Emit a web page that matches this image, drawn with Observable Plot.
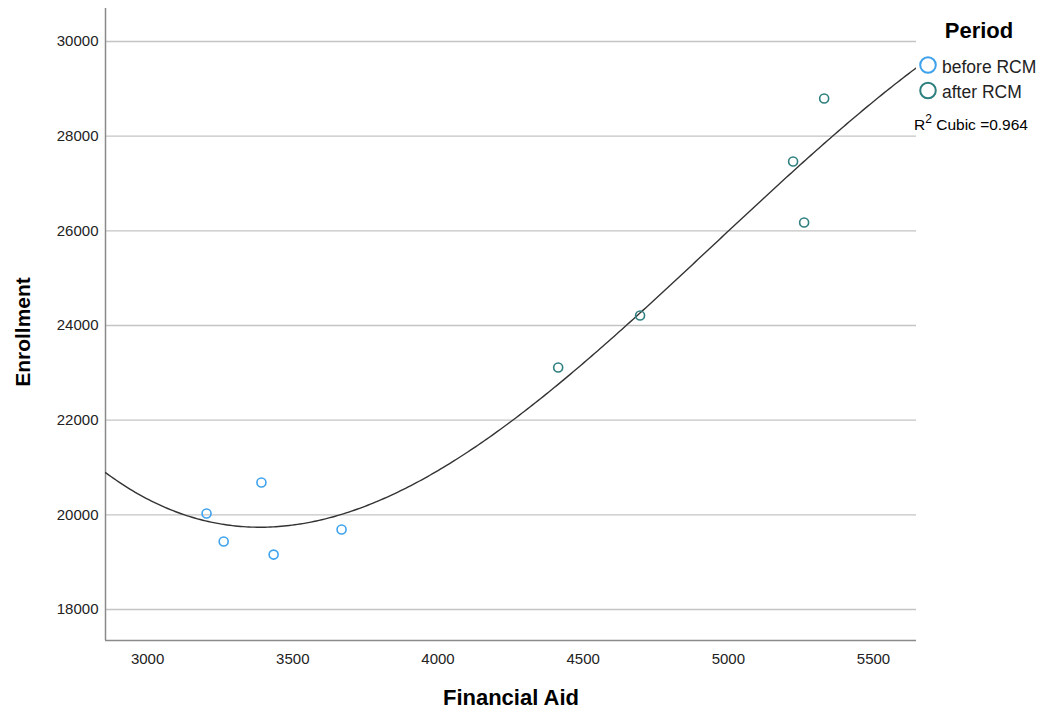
<!DOCTYPE html>
<html>
<head>
<meta charset="utf-8">
<script src="https://cdn.jsdelivr.net/npm/d3@7"></script>
<script src="https://cdn.jsdelivr.net/npm/@observablehq/plot@0.6"></script>
<style>
  body { margin: 0; background: #fff; font-family: "Liberation Sans", Arial, sans-serif; }
  #wrap { position: relative; width: 1042px; height: 711px; }
  #legend { position: absolute; left: 0; top: 0; pointer-events: none; }
</style>
</head>
<body>
<div id="wrap"></div>
<script>
// Data
const periods = ["before RCM", "after RCM"];
const beforeAid = [3203, 3262, 3392, 3434, 3668];
const beforeEnroll = [20027, 19435, 20682, 19160, 19689];
const afterAid = [4414, 4696, 5223, 5261, 5330];
const afterEnroll = [23112, 24210, 27464, 26175, 28796];
const yTicks = [18000, 20000, 22000, 24000, 26000, 28000, 30000];
const xTicks = [3000, 3500, 4000, 4500, 5000, 5500];
const xDomain = [2855, 5648];
const yDomain = [17345, 30697];
const xTitle = "Financial Aid";
const yTitle = "Enrollment";
const legendTitle = "Period";
const fitLabel = "Cubic =0.964";

const colors = { "before RCM": "#3ea2ee", "after RCM": "#2e7f7f" };
const FONT = "'Liberation Sans', Arial, sans-serif";

const points = [
  ...beforeAid.map((x, i) => ({ aid: x, enroll: beforeEnroll[i], period: periods[0] })),
  ...afterAid.map((x, i) => ({ aid: x, enroll: afterEnroll[i], period: periods[1] }))
];

// Cubic least-squares fit (as in the original's fit line)
function cubicFit(data) {
  const mx = d3.mean(data, d => d.aid);
  const s = 1000;
  const n = 4;
  const A = Array.from({ length: n }, () => new Array(n).fill(0));
  const b = new Array(n).fill(0);
  for (const d of data) {
    const t = (d.aid - mx) / s;
    const p = [1, t, t * t, t * t * t];
    for (let i = 0; i < n; i++) {
      b[i] += p[i] * d.enroll;
      for (let j = 0; j < n; j++) A[i][j] += p[i] * p[j];
    }
  }
  for (let i = 0; i < n; i++) {
    let max = i;
    for (let k = i + 1; k < n; k++) if (Math.abs(A[k][i]) > Math.abs(A[max][i])) max = k;
    [A[i], A[max]] = [A[max], A[i]];
    [b[i], b[max]] = [b[max], b[i]];
    for (let k = i + 1; k < n; k++) {
      const f = A[k][i] / A[i][i];
      for (let j = i; j < n; j++) A[k][j] -= f * A[i][j];
      b[k] -= f * b[i];
    }
  }
  const c = new Array(n).fill(0);
  for (let i = n - 1; i >= 0; i--) {
    let sum = b[i];
    for (let j = i + 1; j < n; j++) sum -= A[i][j] * c[j];
    c[i] = sum / A[i][i];
  }
  return x => {
    const t = (x - mx) / s;
    return c[0] + c[1] * t + c[2] * t * t + c[3] * t * t * t;
  };
}
const f = cubicFit(points);
const curve = d3.range(0, 301).map(i => {
  const x = xDomain[0] + (xDomain[1] - xDomain[0]) * i / 300;
  return { aid: x, enroll: f(x) };
});

const chart = Plot.plot({
  width: 1042,
  height: 711,
  marginLeft: 105,
  marginRight: 126,
  marginTop: 8,
  marginBottom: 71,
  style: { fontFamily: FONT, background: "#fff" },
  x: { domain: xDomain, ticks: xTicks },
  y: { domain: yDomain, ticks: yTicks },
  marks: [
    Plot.gridY(yTicks, { stroke: "#c4c4c4", strokeOpacity: 1, strokeWidth: 1.3 }),
    Plot.axisY(yTicks, { tickSize: 0, tickPadding: 7, fontSize: 15, fill: "#222", label: null, tickFormat: d3.format("d") }),
    Plot.axisX(xTicks, { tickSize: 0, tickPadding: 13, fontSize: 15, fill: "#222", label: null, tickFormat: d3.format("d") }),
    Plot.ruleX([xDomain[0]], { stroke: "#8a8a8a", strokeWidth: 1.5 }),
    Plot.ruleY([yDomain[0]], { stroke: "#8a8a8a", strokeWidth: 1.5 }),
    Plot.line(curve, { x: "aid", y: "enroll", stroke: "#333", strokeWidth: 1.4, clip: true }),
    Plot.dot(points, { x: "aid", y: "enroll", r: 4.5, stroke: d => colors[d.period], strokeWidth: 1.6, fill: "none" })
  ]
});

const wrap = document.getElementById("wrap");
wrap.appendChild(chart);

// Overlay: axis titles and legend
const ns = "http://www.w3.org/2000/svg";
const leg = document.createElementNS(ns, "svg");
leg.setAttribute("id", "legend");
leg.setAttribute("width", 1042);
leg.setAttribute("height", 711);
const mk = (tag, attrs, text) => {
  const el = document.createElementNS(ns, tag);
  for (const k in attrs) el.setAttribute(k, attrs[k]);
  if (text != null) el.textContent = text;
  leg.appendChild(el);
  return el;
};
mk("text", { x: 511, y: 705, "text-anchor": "middle", "font-size": 22, "font-weight": "bold", "font-family": FONT, fill: "#000" }, xTitle);
mk("text", { x: 0, y: 0, transform: "translate(30,332) rotate(-90)", "text-anchor": "middle", "font-size": 21, "font-weight": "bold", "font-family": FONT, fill: "#000" }, yTitle);
mk("text", { x: 979, y: 38, "text-anchor": "middle", "font-size": 22, "font-weight": "bold", "font-family": FONT, fill: "#000" }, legendTitle);
periods.forEach((p, i) => {
  const cy = 65 + i * 25.5;
  mk("circle", { cx: 928, cy, r: 7.8, fill: "none", stroke: colors[p], "stroke-width": 2 });
  mk("text", { x: 942, y: cy + 7.5, "font-size": 17.5, "font-family": FONT, fill: "#222" }, p);
});
const t = mk("text", { x: 914, y: 130, "font-size": 15.5, "font-family": FONT, fill: "#000" });
const r = document.createElementNS(ns, "tspan"); r.textContent = "R"; t.appendChild(r);
const sup = document.createElementNS(ns, "tspan"); sup.textContent = "2"; sup.setAttribute("dy", -7); sup.setAttribute("font-size", 12); t.appendChild(sup);
const rest = document.createElementNS(ns, "tspan"); rest.textContent = " " + fitLabel; rest.setAttribute("dy", 7); t.appendChild(rest);
wrap.appendChild(leg);
</script>
</body>
</html>
